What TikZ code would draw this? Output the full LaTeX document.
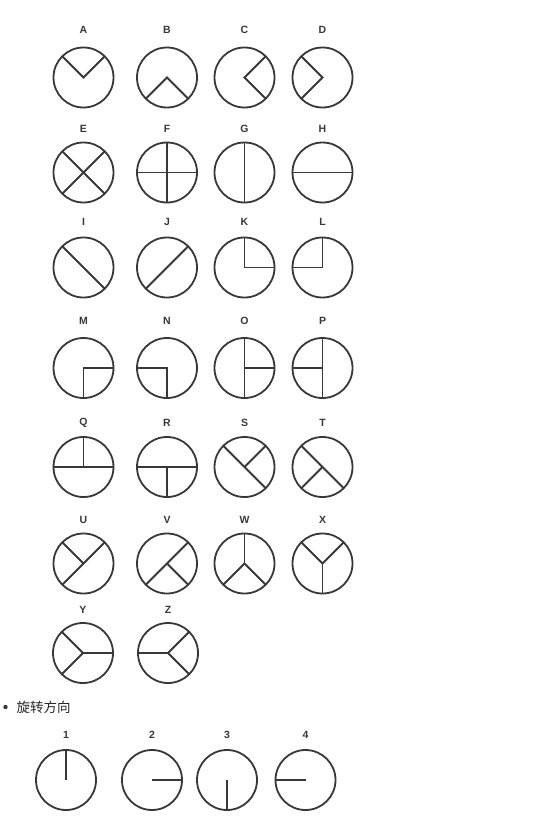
\documentclass[tikz,border=0pt]{standalone}
\usepackage{fontspec}
\setsansfont{Liberation Sans}
\newfontfamily\cjk{Noto Sans CJK SC}
\definecolor{ink}{HTML}{383838}
\begin{document}
\begin{tikzpicture}[x=1pt,y=-1pt,
  ring/.style={circle,draw=ink,line width=1.8pt,minimum size=60pt,inner sep=0pt,outer sep=0pt},
  bar/.style={draw=ink,line width=1.8pt,line join=miter},
  lab/.style={font=\sffamily\bfseries\fontsize{10.5}{12}\selectfont,text=ink,inner sep=0pt},
  num/.style={font=\sffamily\bfseries\fontsize{10.5}{12}\selectfont,text=ink,inner sep=0pt}]
\useasboundingbox[fill=white] (0,0) rectangle (533,816);
% ---- row 1
\node[lab] (lA) at (83.5,30) {A};  \node[ring] (A) at (83.5,77.5) {};
\node[lab] (lB) at (167,30) {B};   \node[ring] (B) at (167,77.5) {};
\node[lab] (lC) at (244.5,30) {C}; \node[ring] (C) at (244.5,77.5) {};
\node[lab] (lD) at (322.5,30) {D}; \node[ring] (D) at (322.5,77.5) {};
\draw[bar] (A.135) -- (A.center) -- (A.45);
\draw[bar] (B.225) -- (B.center) -- (B.315);
\draw[bar] (C.45) -- (C.center) -- (C.315);
\draw[bar] (D.135) -- (D.center) -- (D.225);
% ---- row 2
\node[lab] (lE) at (83.5,129) {E};  \node[ring] (E) at (83.5,172.5) {};
\node[lab] (lF) at (167,129) {F};   \node[ring] (F) at (167,172.5) {};
\node[lab] (lG) at (244.5,129) {G}; \node[ring] (G) at (244.5,172.5) {};
\node[lab] (lH) at (322.5,129) {H}; \node[ring] (H) at (322.5,172.5) {};
\draw[bar] (E.135) -- (E.315); \draw[bar] (E.45) -- (E.225);
\draw[bar] (F.90) -- (F.270); \draw[bar] (F.0) -- (F.180);
\draw[bar] (G.90) -- (G.270);
\draw[bar] (H.0) -- (H.180);
% ---- row 3
\node[lab] (lI) at (83.5,222) {I};  \node[ring] (I) at (83.5,267.5) {};
\node[lab] (lJ) at (167,222) {J};   \node[ring] (J) at (167,267.5) {};
\node[lab] (lK) at (244.5,222) {K}; \node[ring] (K) at (244.5,267.5) {};
\node[lab] (lL) at (322.5,222) {L}; \node[ring] (L) at (322.5,267.5) {};
\draw[bar] (I.135) -- (I.315);
\draw[bar] (J.45) -- (J.225);
\draw[bar] (K.90) -- (K.center) -- (K.0);
\draw[bar] (L.90) -- (L.center) -- (L.180);
% ---- row 4
\node[lab] (lM) at (83.5,321) {M};  \node[ring] (M) at (83.5,368) {};
\node[lab] (lN) at (167,321) {N};   \node[ring] (N) at (167,368) {};
\node[lab] (lO) at (244.5,321) {O}; \node[ring] (O) at (244.5,368) {};
\node[lab] (lP) at (322.5,321) {P}; \node[ring] (P) at (322.5,368) {};
\draw[bar] (M.0) -- (M.center) -- (M.270);
\draw[bar] (N.180) -- (N.center) -- (N.270);
\draw[bar] (O.90) -- (O.270); \draw[bar] (O.center) -- (O.0);
\draw[bar] (P.90) -- (P.270); \draw[bar] (P.center) -- (P.180);
% ---- row 5
\node[lab] (lQ) at (83.5,423) {Q};  \node[ring] (Q) at (83.5,467) {};
\node[lab] (lR) at (167,423) {R};   \node[ring] (R) at (167,467) {};
\node[lab] (lS) at (244.5,423) {S}; \node[ring] (S) at (244.5,467) {};
\node[lab] (lT) at (322.5,423) {T}; \node[ring] (T) at (322.5,467) {};
\draw[bar] (Q.0) -- (Q.180); \draw[bar] (Q.center) -- (Q.90);
\draw[bar] (R.0) -- (R.180); \draw[bar] (R.center) -- (R.270);
\draw[bar] (S.135) -- (S.315); \draw[bar] (S.center) -- (S.45);
\draw[bar] (T.135) -- (T.315); \draw[bar] (T.center) -- (T.225);
% ---- row 6
\node[lab] (lU) at (83.5,520) {U};  \node[ring] (U) at (83.5,563.5) {};
\node[lab] (lV) at (167,520) {V};   \node[ring] (V) at (167,563.5) {};
\node[lab] (lW) at (244.5,520) {W}; \node[ring] (W) at (244.5,563.5) {};
\node[lab] (lX) at (322.5,520) {X}; \node[ring] (X) at (322.5,563.5) {};
\draw[bar] (U.45) -- (U.225); \draw[bar] (U.center) -- (U.135);
\draw[bar] (V.45) -- (V.225); \draw[bar] (V.center) -- (V.315);
\draw[bar] (W.center) -- (W.90); \draw[bar] (W.center) -- (W.225); \draw[bar] (W.center) -- (W.315);
\draw[bar] (X.center) -- (X.270); \draw[bar] (X.center) -- (X.135); \draw[bar] (X.center) -- (X.45);
% ---- row 7
\node[lab] (lY) at (83,610) {Y};  \node[ring] (Y) at (83,653) {};
\node[lab] (lZ) at (168,610) {Z}; \node[ring] (Z) at (168,653) {};
\draw[bar] (Y.center) -- (Y.0); \draw[bar] (Y.center) -- (Y.135); \draw[bar] (Y.center) -- (Y.225);
\draw[bar] (Z.center) -- (Z.180); \draw[bar] (Z.center) -- (Z.45); \draw[bar] (Z.center) -- (Z.315);
% ---- rotation section
\fill[ink] (5.5,707) circle (2.2pt);
\node[anchor=west,inner sep=0pt,font=\cjk\fontsize{13.5}{15}\selectfont,text=black!85] (title) at (16.5,707) {旋转方向};
\node[num] (n1) at (66,735) {1};    \node[ring] (R1) at (66,780) {};
\node[num] (n2) at (152,735) {2};   \node[ring] (R2) at (152,780) {};
\node[num] (n3) at (227,735) {3};   \node[ring] (R3) at (227,780) {};
\node[num] (n4) at (305.5,735) {4}; \node[ring] (R4) at (305.5,780) {};
\draw[bar] (R1.center) -- (R1.90);
\draw[bar] (R2.center) -- (R2.0);
\draw[bar] (R3.center) -- (R3.270);
\draw[bar] (R4.center) -- (R4.180);
\end{tikzpicture}
\end{document}
